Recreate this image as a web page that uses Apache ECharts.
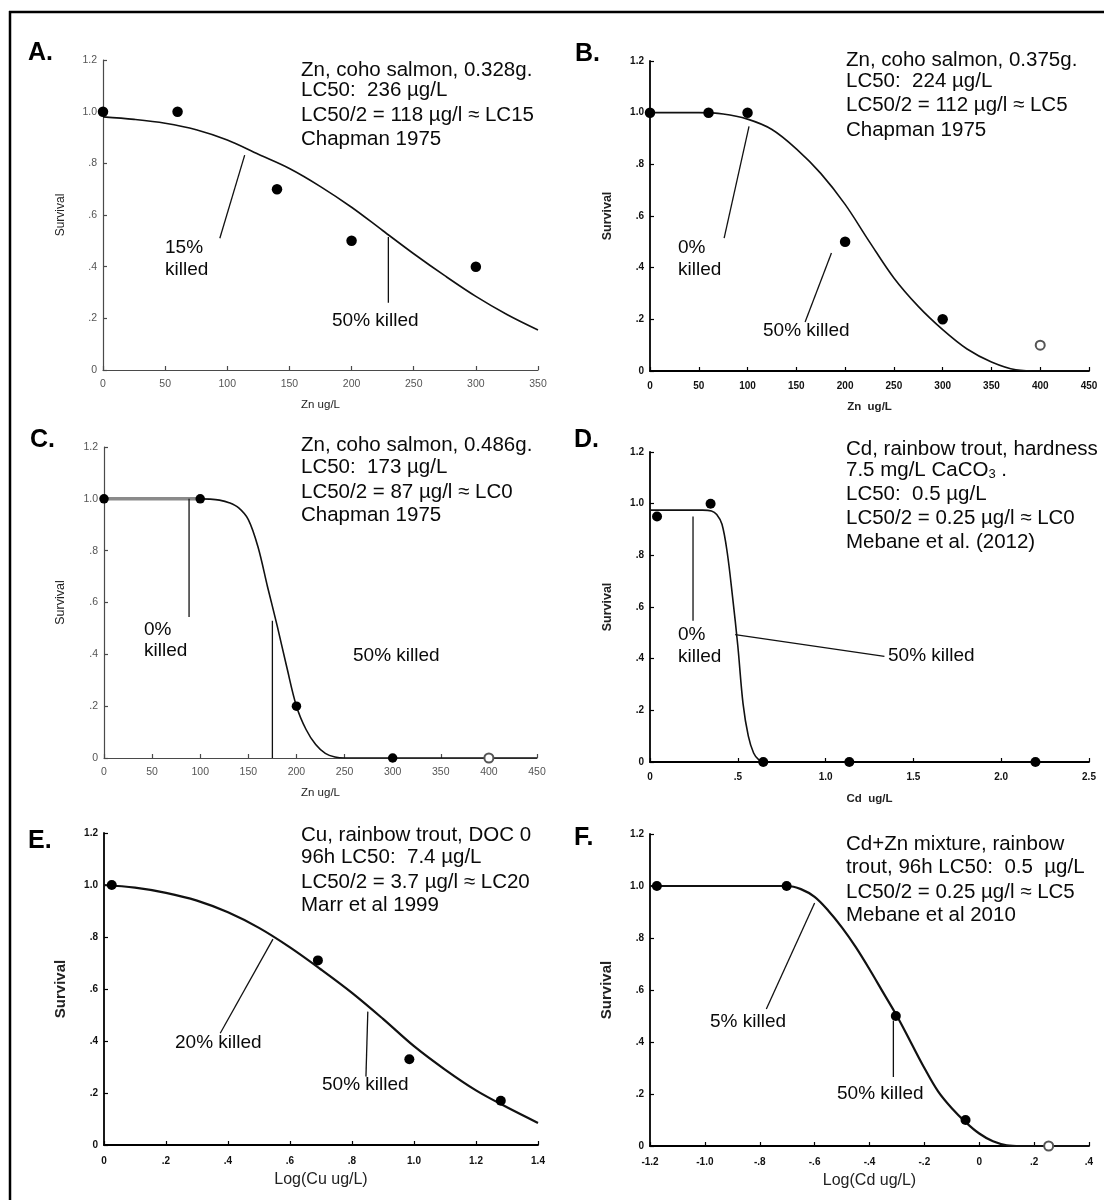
<!DOCTYPE html>
<html>
<head>
<meta charset="utf-8">
<title>Survival vs concentration</title>
<script src="https://cdn.jsdelivr.net/npm/echarts@6/dist/echarts.min.js"></script>
<style>
  html, body { margin: 0; padding: 0; background: #fff; }
  #chart { width: 1104px; height: 1200px; }
</style>
</head>
<body>
<div id="chart"></div>
<script>
// ---------- data ----------
const yTickLabels = ['0', '.2', '.4', '.6', '.8', '1.0', '1.2'];

// A. Zn, coho salmon, 0.328 g
const aTickLabels = ['0', '50', '100', '150', '200', '250', '300', '350'];
const aDose = [0, 60, 140, 200, 300];
const aSurv = [1.0, 1.0, 0.7, 0.5, 0.4];
const aFitX = [0, 25, 50, 75, 100, 125, 150, 175, 200, 225, 250, 275, 300, 325, 350];
const aFitY = [0.98, 0.97, 0.955, 0.93, 0.89, 0.835, 0.78, 0.71, 0.63, 0.54, 0.45, 0.365, 0.285, 0.215, 0.155];
const aLeaders = [[[114, 0.832], [94, 0.51]], [[229.6, 0.515], [229.6, 0.26]]];
const aTitle = ['Zn, coho salmon, 0.328g.', 'LC50:  236 µg/L', 'LC50/2 = 118 µg/l ≈ LC15', 'Chapman 1975'];
const aNotes = ['15%', 'killed', '50% killed'];

// B. Zn, coho salmon, 0.375 g
const bTickLabels = ['0', '50', '100', '150', '200', '250', '300', '350', '400', '450'];
const bDose = [0, 60, 100, 200, 300];
const bSurv = [1.0, 1.0, 1.0, 0.5, 0.2];
const bOpenDose = [400];
const bOpenSurv = [0.1];
const bFitX = [0, 50, 75, 100, 125, 150, 175, 200, 225, 250, 275, 300, 325, 350, 375, 400, 450];
const bFitY = [1.0, 1.0, 0.995, 0.975, 0.935, 0.86, 0.765, 0.645, 0.5, 0.36, 0.25, 0.16, 0.085, 0.035, 0.005, 0, 0];
const bLeaders = [[[101.5, 0.947], [76, 0.514]], [[186, 0.457], [159, 0.19]]];
const bTitle = ['Zn, coho salmon, 0.375g.', 'LC50:  224 µg/L', 'LC50/2 = 112 µg/l ≈ LC5', 'Chapman 1975'];
const bNotes = ['0%', 'killed', '50% killed'];

// C. Zn, coho salmon, 0.486 g
const cTickLabels = ['0', '50', '100', '150', '200', '250', '300', '350', '400', '450'];
const cDose = [0, 100, 200, 300];
const cSurv = [1.0, 1.0, 0.2, 0];
const cOpenDose = [400];
const cOpenSurv = [0];
const cFlatX = [0, 100];
const cFlatY = [1.0, 1.0];
const cFitX = [100, 110, 120, 130, 140, 150, 160, 170, 180, 190, 200, 210, 220, 230, 240, 250, 450];
const cFitY = [1.0, 0.999, 0.995, 0.985, 0.965, 0.92, 0.815, 0.66, 0.51, 0.35, 0.2, 0.11, 0.052, 0.018, 0.004, 0, 0];
const cLeaders = [[[88.4, 1.0], [88.4, 0.544]], [[175, 0.53], [175, 0]]];
const cTitle = ['Zn, coho salmon, 0.486g.', 'LC50:  173 µg/L', 'LC50/2 = 87 µg/l ≈ LC0', 'Chapman 1975'];
const cNotes = ['0%', 'killed', '50% killed'];

// D. Cd, rainbow trout
const dTickLabels = ['0', '.5', '1.0', '1.5', '2.0', '2.5'];
const dDose = [0.04, 0.345, 0.645, 1.135, 2.195];
const dSurv = [0.95, 1.0, 0, 0, 0];
const dFitX = [0, 0.1, 0.2, 0.3, 0.35, 0.38, 0.41, 0.44, 0.47, 0.5, 0.53, 0.56, 0.59, 0.62, 0.65];
const dFitY = [0.975, 0.975, 0.975, 0.975, 0.972, 0.958, 0.92, 0.81, 0.64, 0.45, 0.225, 0.1, 0.035, 0.008, 0];
const dLeaders = [[[0.245, 0.95], [0.245, 0.547]], [[0.485, 0.493], [1.335, 0.409]]];
const dTitle = ['Cd, rainbow trout, hardness', '7.5 mg/L CaCO{sub|3} .', 'LC50:  0.5 µg/L', 'LC50/2 = 0.25 µg/l ≈ LC0', 'Mebane et al. (2012)'];
const dNotes = ['0%', 'killed', '50% killed'];

// E. Cu, rainbow trout
const eTickLabels = ['0', '.2', '.4', '.6', '.8', '1.0', '1.2', '1.4'];
const eDose = [0.025, 0.69, 0.985, 1.28];
const eSurv = [1.0, 0.71, 0.33, 0.17];
const eFitX = [0, 0.1, 0.2, 0.3, 0.4, 0.5, 0.6, 0.7, 0.8, 0.9, 1.0, 1.1, 1.2, 1.3, 1.4];
const eFitY = [1.0, 0.99, 0.97, 0.94, 0.895, 0.835, 0.76, 0.675, 0.585, 0.485, 0.38, 0.29, 0.21, 0.145, 0.085];
const eLeaders = [[[0.545, 0.792], [0.375, 0.43]], [[0.851, 0.513], [0.845, 0.263]]];
const eTitle = ['Cu, rainbow trout, DOC 0', '96h LC50:  7.4 µg/L', 'LC50/2 = 3.7 µg/l ≈ LC20', 'Marr et al 1999'];
const eNotes = ['20% killed', '50% killed'];

// F. Cd+Zn mixture, rainbow trout
const fTickLabels = ['-1.2', '-1.0', '-.8', '-.6', '-.4', '-.2', '0', '.2', '.4'];
const fDose = [-1.175, -0.702, -0.304, -0.05];
const fSurv = [1.0, 1.0, 0.5, 0.1];
const fOpenDose = [0.253];
const fOpenSurv = [0];
const fFitX = [-1.2, -0.8, -0.7, -0.65, -0.6, -0.55, -0.5, -0.45, -0.4, -0.35, -0.3, -0.25, -0.2, -0.15, -0.1, -0.05, 0, 0.05, 0.1, 0.15, 0.4];
const fFitY = [1.0, 1.0, 1.0, 0.988, 0.958, 0.905, 0.84, 0.765, 0.68, 0.59, 0.5, 0.4, 0.3, 0.21, 0.145, 0.092, 0.048, 0.018, 0.003, 0, 0];
const fLeaders = [[[-0.6, 0.935], [-0.776, 0.527]], [[-0.313, 0.483], [-0.313, 0.265]]];
const fTitle = ['Cd+Zn mixture, rainbow', 'trout, 96h LC50:  0.5  µg/L', 'LC50/2 = 0.25 µg/l ≈ LC5', 'Mebane et al 2010'];
const fNotes = ['5% killed', '50% killed'];

// ---------- layout ----------
const FONT = '"Liberation Sans", Arial, sans-serif';

const looks = {
    light: { axis: '#4a4a4a', axisW: 1.2, label: '#555', labelWeight: 'normal', labelSize: 10.5, curveW: 1.6 },
    bold: { axis: '#000', axisW: 1.8, label: '#111', labelWeight: 'bold', labelSize: 10, curveW: 1.6 },
    heavy: { axis: '#000', axisW: 1.8, label: '#111', labelWeight: 'bold', labelSize: 10, curveW: 2.2 }
};

const panels = [
    {
        letter: 'A.', letterPos: [28, 54], look: 'light', box: [103, 60, 435, 310],
        x: [0, 350, 50], xLabels: aTickLabels, xName: 'Zn ug/L', xNameSize: 11.5, xNameWeight: 'normal', xGap: 29,
        yNameSize: 12, yNameWeight: 'normal', yGap: 36, xMargin: 9, symbolSize: 10.5,
        pts: [aDose, aSurv], fit: [aFitX, aFitY], leaders: aLeaders,
        title: aTitle, titleX: 301, titleY: [70, 90, 115, 139],
        notes: aNotes, notePos: [[165, 248], [165, 270], [332, 321]]
    },
    {
        letter: 'B.', letterPos: [575, 55], look: 'bold', box: [650, 61, 439, 310],
        x: [0, 450, 50], xLabels: bTickLabels, xName: 'Zn  ug/L', xNameSize: 11.5, xNameWeight: 'bold', xGap: 30,
        yNameSize: 12.5, yNameWeight: 'bold', yGap: 36, xMargin: 10, symbolSize: 10.5,
        pts: [bDose, bSurv], open: [bOpenDose, bOpenSurv], fit: [bFitX, bFitY], leaders: bLeaders,
        title: bTitle, titleX: 846, titleY: [60, 81, 105, 130],
        notes: bNotes, notePos: [[678, 248], [678, 270], [763, 331]]
    },
    {
        letter: 'C.', letterPos: [30, 441], look: 'light', box: [104, 447, 433, 311],
        x: [0, 450, 50], xLabels: cTickLabels, xName: 'Zn ug/L', xNameSize: 11.5, xNameWeight: 'normal', xGap: 29,
        yNameSize: 12.5, yNameWeight: 'normal', yGap: 37, xMargin: 9, symbolSize: 9.5,
        pts: [cDose, cSurv], open: [cOpenDose, cOpenSurv], flat: [cFlatX, cFlatY], fit: [cFitX, cFitY], leaders: cLeaders,
        title: cTitle, titleX: 301, titleY: [445, 467, 492, 515],
        notes: cNotes, notePos: [[144, 630], [144, 651], [353, 656]]
    },
    {
        letter: 'D.', letterPos: [574, 441], look: 'bold', box: [650, 452, 439, 310],
        x: [0, 2.5, 0.5], xLabels: dTickLabels, xName: 'Cd  ug/L', xNameSize: 11.5, xNameWeight: 'bold', xGap: 31,
        yNameSize: 12.5, yNameWeight: 'bold', yGap: 36, xMargin: 10, symbolSize: 10,
        pts: [dDose, dSurv], fit: [dFitX, dFitY], leaders: dLeaders,
        title: dTitle, titleX: 846, titleY: [449, 470, 494, 518, 542],
        notes: dNotes, notePos: [[678, 635], [678, 657], [888, 656]]
    },
    {
        letter: 'E.', letterPos: [28, 842], look: 'heavy', box: [104, 833, 434, 312],
        x: [0, 1.4, 0.2], xLabels: eTickLabels, xName: 'Log(Cu ug/L)', xNameSize: 16, xNameWeight: 'normal', xGap: 27,
        yNameSize: 15, yNameWeight: 'bold', yGap: 36, xMargin: 11, symbolSize: 10,
        pts: [eDose, eSurv], fit: [eFitX, eFitY], leaders: eLeaders,
        title: eTitle, titleX: 301, titleY: [835, 857, 882, 905],
        notes: eNotes, notePos: [[175, 1043], [322, 1085]]
    },
    {
        letter: 'F.', letterPos: [574, 839], look: 'heavy', box: [650, 834, 439, 312],
        x: [-1.2, 0.4, 0.2], xLabels: fTickLabels, xName: 'Log(Cd ug/L)', xNameSize: 16, xNameWeight: 'normal', xGap: 27,
        yNameSize: 15, yNameWeight: 'bold', yGap: 36, xMargin: 11, symbolSize: 10,
        pts: [fDose, fSurv], open: [fOpenDose, fOpenSurv], fit: [fFitX, fFitY], leaders: fLeaders,
        title: fTitle, titleX: 846, titleY: [844, 867, 892, 915],
        notes: fNotes, notePos: [[710, 1022], [837, 1094]]
    }
];

function zip(xs, ys) {
    return xs.map((x, i) => [x, ys[i]]);
}

function tickFormatter(labels, min, step) {
    return (v) => {
        const label = labels[Math.round((v - min) / step)];
        return label === undefined ? '' : label;
    };
}

const option = {
    animation: false,
    backgroundColor: '#fff',
    grid: [],
    xAxis: [],
    yAxis: [],
    series: [],
    graphic: []
};

panels.forEach((p, i) => {
    const lk = looks[p.look];
    const axisLine = { onZero: false, lineStyle: { color: lk.axis, width: lk.axisW } };
    const axisTick = { inside: true, length: 4, lineStyle: { color: lk.axis, width: 1.2 } };

    option.grid.push({ left: p.box[0], top: p.box[1], width: p.box[2], height: p.box[3] });

    option.xAxis.push({
        type: 'value', gridIndex: i,
        min: p.x[0], max: p.x[1], interval: p.x[2],
        name: p.xName, nameLocation: 'middle', nameGap: p.xGap,
        nameTextStyle: { fontFamily: FONT, fontSize: p.xNameSize, fontWeight: p.xNameWeight, color: '#222' },
        axisLine, axisTick,
        axisLabel: {
            formatter: tickFormatter(p.xLabels, p.x[0], p.x[2]),
            margin: p.xMargin, fontFamily: FONT, fontSize: lk.labelSize,
            fontWeight: lk.labelWeight, color: lk.label, hideOverlap: false
        },
        splitLine: { show: false }
    });

    option.yAxis.push({
        type: 'value', gridIndex: i,
        min: 0, max: 1.2, interval: 0.2,
        name: 'Survival', nameLocation: 'middle', nameGap: p.yGap,
        nameTextStyle: { fontFamily: FONT, fontSize: p.yNameSize, fontWeight: p.yNameWeight, color: '#222' },
        axisLine, axisTick,
        axisLabel: {
            formatter: tickFormatter(yTickLabels, 0, 0.2),
            margin: 6, fontFamily: FONT, fontSize: lk.labelSize,
            fontWeight: lk.labelWeight, color: lk.label
        },
        splitLine: { show: false }
    });

    const base = { xAxisIndex: i, yAxisIndex: i, silent: true };

    if (p.flat) {
        option.series.push({
            ...base, type: 'line', data: zip(p.flat[0], p.flat[1]), symbol: 'none',
            lineStyle: { color: '#8a8a8a', width: 3.5 }, z: 2
        });
    }

    option.series.push({
        ...base, type: 'line', data: zip(p.fit[0], p.fit[1]), symbol: 'none',
        smooth: 0.35, lineStyle: { color: '#111', width: lk.curveW }, z: 3
    });

    p.leaders.forEach((seg) => {
        option.series.push({
            ...base, type: 'line', data: seg, symbol: 'none',
            lineStyle: { color: '#111', width: 1.3 }, z: 3
        });
    });

    option.series.push({
        ...base, type: 'scatter', data: zip(p.pts[0], p.pts[1]),
        symbol: 'circle', symbolSize: p.symbolSize,
        itemStyle: { color: '#000', opacity: 1 }, z: 5
    });

    if (p.open) {
        option.series.push({
            ...base, type: 'scatter', data: zip(p.open[0], p.open[1]),
            symbol: 'emptyCircle', symbolSize: 9,
            itemStyle: { color: '#555', borderWidth: 1.2, opacity: 1 }, z: 5
        });
    }

    // panel letter
    option.graphic.push({
        type: 'text', left: p.letterPos[0], top: p.letterPos[1] - 13,
        style: { text: p.letter, font: 'bold 25px ' + FONT, fill: '#000' }
    });

    // description block
    p.title.forEach((line, k) => {
        option.graphic.push({
            type: 'text', x: p.titleX, y: p.titleY[k],
            style: {
                text: line, font: '20.5px ' + FONT, fill: '#0a0a0a',
                verticalAlign: 'middle', align: 'left',
                rich: { sub: { fontSize: 13, fontFamily: FONT, fill: '#0a0a0a', verticalAlign: 'bottom', padding: [9, 0, 0, 0] } }
            },
            z: 10
        });
    });

    // "killed" notes
    p.notes.forEach((t, k) => {
        option.graphic.push({
            type: 'text', x: p.notePos[k][0], y: p.notePos[k][1],
            style: { text: t, font: '19px ' + FONT, fill: '#0a0a0a', verticalAlign: 'middle', align: 'left' },
            z: 10
        });
    });
});

// figure frame (top and left edges)
option.graphic.push(
    { type: 'line', shape: { x1: 9, y1: 12, x2: 1104, y2: 12 }, style: { stroke: '#000', lineWidth: 2.5 } },
    { type: 'line', shape: { x1: 10, y1: 11, x2: 10, y2: 1200 }, style: { stroke: '#000', lineWidth: 2.5 } }
);

const chart = echarts.init(document.getElementById('chart'));
chart.setOption(option);
</script>
</body>
</html>
